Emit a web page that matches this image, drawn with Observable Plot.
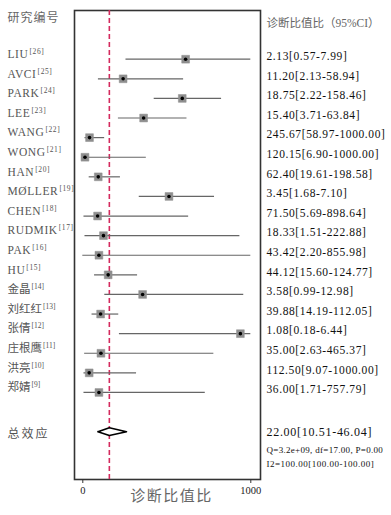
<!DOCTYPE html>
<html>
<head>
<meta charset="utf-8">
<script src="https://cdn.jsdelivr.net/npm/d3@7"></script>
<script src="https://cdn.jsdelivr.net/npm/@observablehq/plot@0.6"></script>
<style>
  html, body { margin: 0; padding: 0; background: #fff; }
  #chart svg { display: block; }
</style>
</head>
<body>
<div id="chart"></div>
<script>
// ---- data ----
const studies = ["LIU", "AVCI", "PARK", "LEE", "WANG", "WONG", "HAN", "MØLLER", "CHEN", "RUDMIK", "PAK", "HU", "金晶", "刘红红", "张倩", "庄根鹰", "洪亮", "郑婧"];
const refs = ["[26]", "[25]", "[24]", "[23]", "[22]", "[21]", "[20]", "[19]", "[18]", "[17]", "[16]", "[15]", "[14]", "[13]", "[12]", "[11]", "[10]", "[9]"];
// plotted point estimates and CI ends (as drawn, on the 0–1000 axis)
const estimates = [612, 240, 592, 362, 40, 13, 92, 513, 88, 123, 96, 151, 356, 106, 938, 108, 38, 96];
const ciLow    = [257, 93, 425, 212, 13, 3, 38, 336, 7, 13, 0, 70, 131, 55, 218, 11, 7, 7];
const ciHigh   = [1000, 600, 826, 620, 130, 378, 224, 784, 630, 935, 1000, 326, 958, 214, 1000, 780, 320, 729];
const ciText = ["2.13[0.57-7.99]", "11.20[2.13-58.94]", "18.75[2.22-158.46]", "15.40[3.71-63.84]", "245.67[58.97-1000.00]", "120.15[6.90-1000.00]", "62.40[19.61-198.58]", "3.45[1.68-7.10]", "71.50[5.69-898.64]", "18.33[1.51-222.88]", "43.42[2.20-855.98]", "44.12[15.60-124.77]", "3.58[0.99-12.98]", "39.88[14.19-112.05]", "1.08[0.18-6.44]", "35.00[2.63-465.37]", "112.50[9.07-1000.00]", "36.00[1.71-757.79]"];
const totalLabel = "总效应";
const totalEstimate = 158, totalLow = 90, totalHigh = 260;
const totalText = "22.00[10.51-46.04]";
const hetQ = "Q=3.2e+09, df=17.00, P=0.00";
const hetI2 = "I2=100.00[100.00-100.00]";
const xTicks = [0, 1000];
const leftHeader = "研究编号";
const rightHeader = "诊断比值比（95%CI）";
const xLabel = "诊断比值比";

// ---- build tables ----
const rows = studies.map((s, i) => ({row: i, name: s, ref: refs[i], est: estimates[i], lo: ciLow[i], hi: ciHigh[i], txt: ciText[i]}));
const totalRow = studies.length + 1;
const diamondH = 0.2;
const diamond = [
  {x: totalLow, y: totalRow},
  {x: totalEstimate, y: totalRow - diamondH},
  {x: totalHigh, y: totalRow},
  {x: totalEstimate, y: totalRow + diamondH},
  {x: totalLow, y: totalRow}
];

const latin = "'Liberation Serif', 'Noto Sans CJK SC', serif";
const cjk = "'Liberation Serif', 'Noto Sans CJK SC', sans-serif";

const chart = Plot.plot({
  width: 391,
  height: 515,
  marginLeft: 74,
  marginRight: 131,
  marginTop: 10,
  marginBottom: 36,
  style: {background: "#fff", overflow: "visible"},
  x: {domain: [-49.4, 1057.7], axis: null},
  y: {domain: [-2.485, 21.44], reverse: true, axis: null},
  marks: [
    Plot.frame({stroke: "#333", strokeWidth: 1.6}),
    Plot.ruleX([totalEstimate], {stroke: "#d42a5e", strokeWidth: 1.6, strokeDasharray: "5,3"}),
    Plot.ruleY(rows, {y: "row", x1: "lo", x2: "hi", stroke: "#666", strokeWidth: 1.2}),
    Plot.dot(rows, {x: "est", y: "row", symbol: "square", r: 4.4, fill: "#8e8e8e", stroke: "#8e8e8e", strokeWidth: 0.5}),
    Plot.dot(rows, {x: "est", y: "row", r: 1.8, fill: "#000"}),
    Plot.line(diamond, {x: "x", y: "y", stroke: "#000", strokeWidth: 1.6, fill: "#fff"}),
    // left labels
    Plot.text(rows, {y: "row", text: "name", frameAnchor: "left", dx: -67, dy: -5, textAnchor: "start",
      fill: "#555", fontSize: 11.5, fontFamily: cjk}),
    Plot.text([totalLabel], {y: [totalRow], text: d => d, frameAnchor: "left", dx: -67, dy: 2, textAnchor: "start",
      fill: "#555", fontSize: 12, fontFamily: cjk}),
    Plot.text([leftHeader], {text: d => d, frameAnchor: "top-left", dx: -67, dy: 3, textAnchor: "start",
      fill: "#666", fontSize: 12, fontFamily: cjk}),
    // right column
    Plot.text(rows, {y: "row", text: "txt", frameAnchor: "right", dx: 6, dy: -3, textAnchor: "start",
      fill: "#111", fontSize: 11.5, fontFamily: latin}),
    Plot.text([rightHeader], {text: d => d, frameAnchor: "top-right", dx: 6, dy: 8, textAnchor: "start",
      fill: "#666", fontSize: 11.5, fontFamily: cjk}),
    Plot.text([totalText], {y: [totalRow], text: d => d, frameAnchor: "right", dx: 6, dy: 0, textAnchor: "start",
      fill: "#111", fontSize: 12, fontFamily: latin}),
    Plot.text([hetQ], {y: [totalRow], text: d => d, frameAnchor: "right", dx: 6, dy: 18, textAnchor: "start",
      fill: "#111", fontSize: 9, fontFamily: latin}),
    Plot.text([hetI2], {y: [totalRow], text: d => d, frameAnchor: "right", dx: 6, dy: 32, textAnchor: "start",
      fill: "#111", fontSize: 9, fontFamily: latin}),
    // x axis
    Plot.axisX(xTicks, {tickSize: 4, tickPadding: 3, fontSize: 10.5, fontFamily: latin, fill: "#222", stroke: "#333",
      tickFormat: d => String(d), label: null}),
    Plot.text([xLabel], {text: d => d, frameAnchor: "bottom", dx: 4, dy: 21, fill: "#666", fontSize: 15,
      fontFamily: cjk}),
  ]
});

// post-processing: superscript references and letter spacing
const spacing = new Map();
ciText.forEach(t => spacing.set(t, "0.6px"));
spacing.set(totalText, "0.7px");
spacing.set(hetQ, "0.3px");
spacing.set(hetI2, "0.5px");
spacing.set(leftHeader, "1px");
spacing.set(totalLabel, "2px");
spacing.set(xLabel, "1.5px");
chart.querySelectorAll("text").forEach(t => {
  const s = t.textContent;
  if (spacing.has(s)) t.style.letterSpacing = spacing.get(s);
  const i = studies.indexOf(s);
  if (i >= 0 && t.childElementCount === 0) {
    if (/^[A-ZØ]+$/.test(s)) t.style.letterSpacing = "0.6px";
    const ts = document.createElementNS("http://www.w3.org/2000/svg", "tspan");
    ts.setAttribute("dy", "-4");
    ts.setAttribute("dx", "1");
    ts.setAttribute("font-size", "7.5");
    ts.textContent = refs[i];
    t.appendChild(ts);
  }
});
document.getElementById("chart").appendChild(chart);
</script>
</body>
</html>
